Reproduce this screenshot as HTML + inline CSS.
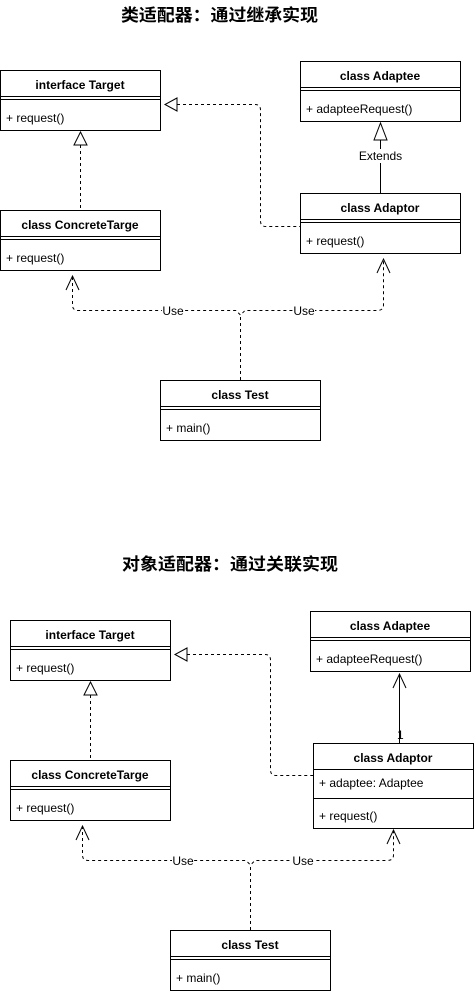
<!DOCTYPE html>
<html><head><meta charset="utf-8"><style>
html,body{margin:0;padding:0;background:#fff;}
svg{display:block;}
text{font-family:"Liberation Sans","Noto Sans CJK SC",sans-serif;fill:#000;}
.t{font-size:12px;font-weight:bold;text-anchor:middle;}
.m{font-size:12px;}
.ti{font-size:17px;font-weight:bold;}
.b{fill:#fff;stroke:#000;stroke-width:1;}
.l{stroke:#000;stroke-width:1;fill:none;}
.d{stroke:#000;stroke-width:1;fill:none;stroke-dasharray:3,3;}
.lab{font-size:12px;text-anchor:middle;}
</style></head><body>
<svg width="474" height="994" viewBox="0 0 474 994" xmlns="http://www.w3.org/2000/svg">
<text class="ti" x="121" y="21" textLength="197" lengthAdjust="spacingAndGlyphs">类适配器：通过继承实现</text>

<path class="d" d="M177,104.5 H255 Q260.5,104.5 260.5,110 V221 Q260.5,226.5 266,226.5 H300"/>
<path class="b" d="M177,98 L165,104.5 L177,111 Z"/>
<path class="d" d="M80.5,145 V210"/>
<path class="b" d="M74,145 L80.5,132 L87,145 Z"/>
<path class="l" d="M380.5,140 V193"/>
<path class="b" d="M374,140 L380.5,123 L387,140 Z"/>
<rect x="357" y="149" width="46" height="14" fill="#fff"/>
<text class="lab" x="380.5" y="160">Extends</text>
<path class="d" d="M72.5,277 V305 Q72.5,310.5 78,310.5 H236 L240.5,315 L245,310.5 H377 Q383.5,310.5 383.5,305 V260"/>
<path class="d" d="M240.5,380 V315"/>
<path class="l" d="M66,290 L72.5,276 L79,290 M377,273 L383.5,259 L390,273"/>
<rect x="162" y="304" width="22" height="13" fill="#fff"/>
<text class="lab" x="173" y="315">Use</text>
<rect x="293" y="304" width="22" height="13" fill="#fff"/>
<text class="lab" x="304" y="315">Use</text>

<rect class="b" x="0.5" y="70.5" width="160" height="60"/>
<path class="l" d="M0.5,96.5 H160.5 M0.5,99.5 H160.5"/>
<text class="t" x="80" y="89">interface Target</text>
<text class="m" x="6" y="122">+ request()</text>

<rect class="b" x="0.5" y="210.5" width="160" height="60"/>
<path class="l" d="M0.5,236.5 H160.5 M0.5,239.5 H160.5"/>
<text class="t" x="80" y="229">class ConcreteTarge</text>
<text class="m" x="6" y="262">+ request()</text>

<rect class="b" x="300.5" y="61.5" width="160" height="60"/>
<path class="l" d="M300.5,87.5 H460.5 M300.5,90.5 H460.5"/>
<text class="t" x="380" y="80">class Adaptee</text>
<text class="m" x="306" y="113">+ adapteeRequest()</text>

<rect class="b" x="300.5" y="193.5" width="160" height="60"/>
<path class="l" d="M300.5,219.5 H460.5 M300.5,222.5 H460.5"/>
<text class="t" x="380" y="212">class Adaptor</text>
<text class="m" x="306" y="245">+ request()</text>

<rect class="b" x="160.5" y="380.5" width="160" height="60"/>
<path class="l" d="M160.5,406.5 H320.5 M160.5,409.5 H320.5"/>
<text class="t" x="240" y="399">class Test</text>
<text class="m" x="166" y="432">+ main()</text>

<text class="ti" x="122" y="570" textLength="216" lengthAdjust="spacingAndGlyphs">对象适配器：通过关联实现</text>

<path class="d" d="M187,654.5 H265 Q270.5,654.5 270.5,660 V770 Q270.5,775.5 276,775.5 H313"/>
<path class="b" d="M187,648 L175,654.5 L187,661 Z"/>
<path class="d" d="M90.5,695 V760"/>
<path class="b" d="M84,695 L90.5,682 L97,695 Z"/>
<path class="l" d="M399.5,674 V743 M393,688 L399.5,674 L406,688"/>
<text class="m" x="397" y="739" font-size="10">1</text>
<path class="d" d="M82.5,826 V855 Q82.5,860.5 88,860.5 H246 L250.5,865 L255,860.5 H387 Q393.5,860.5 393.5,855 V830"/>
<path class="d" d="M250.5,930 V865"/>
<path class="l" d="M76,840 L82.5,826 L89,840 M387,844 L393.5,830 L400,844"/>
<rect x="172" y="854" width="22" height="13" fill="#fff"/>
<text class="lab" x="183" y="865">Use</text>
<rect x="292" y="854" width="22" height="13" fill="#fff"/>
<text class="lab" x="303" y="865">Use</text>

<rect class="b" x="10.5" y="620.5" width="160" height="60"/>
<path class="l" d="M10.5,646.5 H170.5 M10.5,649.5 H170.5"/>
<text class="t" x="90" y="639">interface Target</text>
<text class="m" x="16" y="672">+ request()</text>

<rect class="b" x="10.5" y="760.5" width="160" height="60"/>
<path class="l" d="M10.5,786.5 H170.5 M10.5,789.5 H170.5"/>
<text class="t" x="90" y="779">class ConcreteTarge</text>
<text class="m" x="16" y="812">+ request()</text>

<rect class="b" x="310.5" y="611.5" width="160" height="60"/>
<path class="l" d="M310.5,637.5 H470.5 M310.5,640.5 H470.5"/>
<text class="t" x="390" y="630">class Adaptee</text>
<text class="m" x="316" y="663">+ adapteeRequest()</text>

<rect class="b" x="313.5" y="743.5" width="160" height="85"/>
<path class="l" d="M313.5,769.5 H473.5 M313.5,798.5 H473.5"/>
<text class="t" x="393" y="762">class Adaptor</text>
<text class="m" x="319" y="787">+ adaptee: Adaptee</text>
<text class="m" x="319" y="820">+ request()</text>

<rect class="b" x="170.5" y="930.5" width="160" height="60"/>
<path class="l" d="M170.5,956.5 H330.5 M170.5,959.5 H330.5"/>
<text class="t" x="250" y="949">class Test</text>
<text class="m" x="176" y="982">+ main()</text>
</svg>
</body></html>
